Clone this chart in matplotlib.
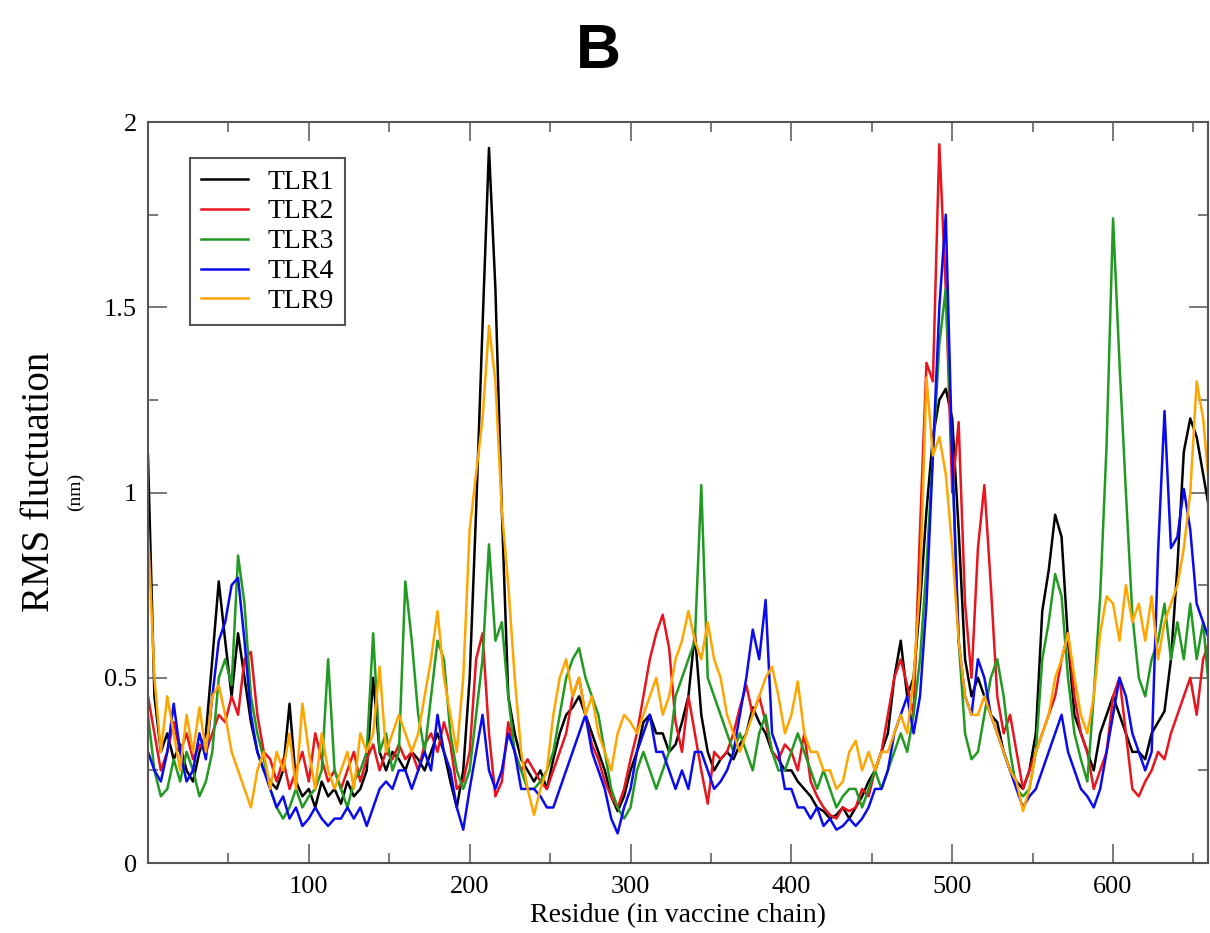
import numpy as np
import matplotlib
matplotlib.use("Agg")
import matplotlib.pyplot as plt
from matplotlib.ticker import MultipleLocator

# residue numbers sampled along the vaccine chain
residue = np.arange(0, 661, 4)

tlr1 = [
    1.10, 0.45, 0.30, 0.35, 0.28, 0.32, 0.25, 0.22, 0.30, 0.35,
    0.55, 0.76, 0.60, 0.45, 0.62, 0.50, 0.38, 0.30, 0.25, 0.22,
    0.20, 0.25, 0.43, 0.22, 0.18, 0.20, 0.15, 0.22, 0.18, 0.20,
    0.16, 0.22, 0.18, 0.20, 0.25, 0.50, 0.30, 0.25, 0.30, 0.28,
    0.25, 0.30, 0.28, 0.25, 0.30, 0.35, 0.30, 0.22, 0.15, 0.25,
    0.50, 0.95, 1.45, 1.93, 1.55, 0.95, 0.45, 0.35, 0.28, 0.25,
    0.22, 0.25, 0.20, 0.28, 0.35, 0.40, 0.42, 0.45, 0.40, 0.35,
    0.30, 0.25, 0.18, 0.14, 0.18, 0.25, 0.30, 0.38, 0.40, 0.35,
    0.35, 0.30, 0.32, 0.38, 0.45, 0.62, 0.40, 0.30, 0.25, 0.28,
    0.30, 0.28, 0.32, 0.35, 0.42, 0.38, 0.35, 0.30, 0.28, 0.25,
    0.25, 0.22, 0.20, 0.18, 0.15, 0.14, 0.12, 0.13, 0.15, 0.12,
    0.15, 0.18, 0.22, 0.25, 0.30, 0.35, 0.50, 0.60, 0.45, 0.50,
    0.70, 0.95, 1.15, 1.25, 1.28, 1.20, 0.90, 0.55, 0.45, 0.50,
    0.45, 0.40, 0.38, 0.30, 0.25, 0.22, 0.20, 0.25, 0.35, 0.68,
    0.79, 0.94, 0.88, 0.60, 0.40, 0.35, 0.30, 0.25, 0.35, 0.40,
    0.45, 0.40, 0.35, 0.30, 0.30, 0.28, 0.35, 0.38, 0.41, 0.55,
    0.80, 1.11, 1.20, 1.15, 1.05, 0.95,
]
tlr2 = [
    0.45, 0.35, 0.25, 0.30, 0.38, 0.30, 0.35, 0.28, 0.32, 0.30,
    0.35, 0.40, 0.38, 0.45, 0.40, 0.55, 0.57, 0.40, 0.30, 0.28,
    0.22, 0.28, 0.20, 0.25, 0.30, 0.22, 0.35, 0.28, 0.22, 0.25,
    0.20, 0.25, 0.30, 0.22, 0.28, 0.32, 0.25, 0.30, 0.28, 0.32,
    0.28, 0.30, 0.25, 0.32, 0.35, 0.30, 0.38, 0.32, 0.20, 0.22,
    0.30, 0.55, 0.62, 0.35, 0.18, 0.22, 0.38, 0.30, 0.25, 0.28,
    0.25, 0.22, 0.20, 0.25, 0.30, 0.35, 0.45, 0.50, 0.40, 0.32,
    0.28, 0.22, 0.18, 0.15, 0.20, 0.28, 0.35, 0.45, 0.55, 0.62,
    0.67, 0.58, 0.38, 0.30, 0.45, 0.35, 0.25, 0.16, 0.30, 0.28,
    0.30, 0.35, 0.42, 0.48, 0.40, 0.45, 0.38, 0.30, 0.28, 0.32,
    0.30, 0.25, 0.35, 0.22, 0.18, 0.15, 0.13, 0.12, 0.15, 0.14,
    0.15, 0.20, 0.18, 0.25, 0.30, 0.40, 0.50, 0.55, 0.48, 0.40,
    0.90, 1.35, 1.30, 1.94, 1.55, 1.00, 1.19, 0.70, 0.50, 0.85,
    1.02, 0.75, 0.45, 0.35, 0.40, 0.30, 0.20, 0.25, 0.30, 0.35,
    0.40, 0.45, 0.55, 0.62, 0.45, 0.35, 0.30, 0.20, 0.25, 0.30,
    0.45, 0.50, 0.35, 0.20, 0.18, 0.22, 0.25, 0.30, 0.28, 0.35,
    0.40, 0.45, 0.50, 0.40, 0.55, 0.60,
]
tlr3 = [
    0.40, 0.25, 0.18, 0.20, 0.28, 0.22, 0.30, 0.25, 0.18, 0.22,
    0.30, 0.50, 0.55, 0.48, 0.83, 0.70, 0.45, 0.35, 0.28, 0.20,
    0.15, 0.12, 0.15, 0.20, 0.15, 0.18, 0.20, 0.25, 0.55, 0.25,
    0.20, 0.15, 0.22, 0.25, 0.30, 0.62, 0.30, 0.35, 0.25, 0.30,
    0.76, 0.60, 0.40, 0.30, 0.45, 0.60, 0.55, 0.35, 0.25, 0.20,
    0.25, 0.40, 0.55, 0.86, 0.60, 0.65, 0.45, 0.30, 0.25, 0.20,
    0.20, 0.22, 0.25, 0.30, 0.40, 0.50, 0.55, 0.58, 0.50, 0.45,
    0.40, 0.30, 0.20, 0.15, 0.12, 0.15, 0.25, 0.30, 0.25, 0.20,
    0.25, 0.30, 0.45, 0.50, 0.55, 0.60, 1.02, 0.50, 0.45, 0.40,
    0.35, 0.30, 0.35, 0.30, 0.25, 0.35, 0.40, 0.30, 0.25, 0.25,
    0.30, 0.35, 0.30, 0.25, 0.20, 0.25, 0.20, 0.15, 0.18, 0.20,
    0.20, 0.15, 0.20, 0.25, 0.20, 0.25, 0.30, 0.35, 0.30, 0.40,
    0.55, 0.80, 1.10, 1.40, 1.55, 1.10, 0.60, 0.35, 0.28, 0.30,
    0.40, 0.50, 0.55, 0.45, 0.30, 0.20, 0.18, 0.20, 0.30, 0.55,
    0.65, 0.78, 0.72, 0.50, 0.35, 0.28, 0.22, 0.45, 0.72, 1.13,
    1.74, 1.35, 1.00, 0.67, 0.50, 0.45, 0.55, 0.60, 0.70, 0.55,
    0.65, 0.55, 0.70, 0.55, 0.65, 0.45,
]
tlr4 = [
    0.30, 0.25, 0.22, 0.30, 0.43, 0.30, 0.22, 0.25, 0.35, 0.28,
    0.45, 0.60, 0.65, 0.75, 0.77, 0.60, 0.40, 0.30, 0.25, 0.20,
    0.15, 0.18, 0.12, 0.15, 0.10, 0.12, 0.15, 0.12, 0.10, 0.12,
    0.12, 0.15, 0.12, 0.15, 0.10, 0.15, 0.20, 0.22, 0.20, 0.25,
    0.25, 0.20, 0.25, 0.30, 0.25, 0.40, 0.30, 0.25, 0.15, 0.09,
    0.20, 0.30, 0.40, 0.25, 0.20, 0.25, 0.35, 0.30, 0.20, 0.20,
    0.20, 0.18, 0.15, 0.15, 0.20, 0.25, 0.30, 0.35, 0.40, 0.30,
    0.25, 0.20, 0.12, 0.08, 0.15, 0.20, 0.30, 0.35, 0.40, 0.30,
    0.30, 0.25, 0.20, 0.25, 0.20, 0.30, 0.30, 0.25, 0.20, 0.22,
    0.25, 0.30, 0.40, 0.50, 0.63, 0.55, 0.71, 0.35, 0.30, 0.20,
    0.20, 0.15, 0.15, 0.12, 0.15, 0.10, 0.12, 0.09, 0.10, 0.12,
    0.10, 0.12, 0.15, 0.20, 0.20, 0.25, 0.35, 0.40, 0.45, 0.35,
    0.45, 0.70, 1.10, 1.50, 1.75, 1.10, 0.60, 0.45, 0.40, 0.55,
    0.50, 0.40, 0.35, 0.30, 0.25, 0.20, 0.15, 0.18, 0.20, 0.25,
    0.30, 0.35, 0.40, 0.30, 0.25, 0.20, 0.18, 0.15, 0.20, 0.30,
    0.40, 0.50, 0.45, 0.35, 0.30, 0.25, 0.30, 0.84, 1.22, 0.85,
    0.88, 1.01, 0.90, 0.70, 0.65, 0.60,
]
tlr9 = [
    0.90, 0.50, 0.30, 0.45, 0.35, 0.25, 0.40, 0.30, 0.42, 0.30,
    0.45, 0.48, 0.40, 0.30, 0.25, 0.20, 0.15, 0.25, 0.30, 0.20,
    0.30, 0.25, 0.35, 0.20, 0.43, 0.30, 0.20, 0.35, 0.25, 0.20,
    0.25, 0.30, 0.20, 0.35, 0.30, 0.35, 0.53, 0.30, 0.35, 0.40,
    0.35, 0.30, 0.35, 0.45, 0.55, 0.68, 0.50, 0.40, 0.30, 0.50,
    0.90, 1.05, 1.20, 1.45, 1.30, 0.95, 0.75, 0.50, 0.30, 0.20,
    0.13, 0.20, 0.25, 0.40, 0.50, 0.55, 0.45, 0.50, 0.40, 0.45,
    0.35, 0.30, 0.25, 0.35, 0.40, 0.38, 0.35, 0.40, 0.45, 0.50,
    0.40, 0.45, 0.55, 0.60, 0.68, 0.60, 0.55, 0.65, 0.55, 0.50,
    0.40, 0.35, 0.30, 0.35, 0.40, 0.45, 0.50, 0.53, 0.45, 0.35,
    0.40, 0.49, 0.35, 0.30, 0.30, 0.25, 0.25, 0.20, 0.22, 0.30,
    0.33, 0.25, 0.30, 0.25, 0.30, 0.30, 0.35, 0.40, 0.35, 0.50,
    0.75, 1.31, 1.10, 1.15, 1.05, 0.85, 0.60, 0.45, 0.40, 0.40,
    0.45, 0.40, 0.35, 0.30, 0.25, 0.22, 0.14, 0.20, 0.30, 0.35,
    0.40, 0.50, 0.55, 0.62, 0.50, 0.40, 0.35, 0.45, 0.62, 0.72,
    0.70, 0.60, 0.75, 0.65, 0.70, 0.60, 0.72, 0.55, 0.65, 0.70,
    0.75, 0.85, 1.00, 1.30, 1.20, 1.00,
]

labels = ["TLR1", "TLR2", "TLR3", "TLR4", "TLR9"]
colors = ["#000000", "#e8141e", "#229922", "#0a0af0", "#ffa500"]

serif = "Liberation Serif"
frame = "#555555"

fig = plt.figure(figsize=(12.10, 9.33), dpi=100)
ax = fig.add_axes([0.1223, 0.0750, 0.8760, 0.7942])

for ys, lab, col in zip([tlr1, tlr2, tlr3, tlr4, tlr9], labels, colors):
    ax.plot(residue, ys, color=col, lw=1.8, label=lab)

ax.set_xlim(0, 659)
ax.set_ylim(0, 2)
ax.set_xticks([100, 200, 300, 400, 500, 600])
ax.xaxis.set_minor_locator(MultipleLocator(50))
ax.set_yticks([0, 0.5, 1, 1.5, 2])
ax.set_yticklabels(["0", "0.5", "1", "1.5", "2"])
ax.yaxis.set_minor_locator(MultipleLocator(0.25))
ax.tick_params(which="both", direction="in", top=True, right=True,
               color=frame, width=1.1, labelsize=19)
ax.tick_params(which="major", length=14)
ax.tick_params(which="minor", length=7)
ax.tick_params(axis="x", pad=9)
ax.tick_params(axis="y", pad=8)
for t in ax.get_xticklabels() + ax.get_yticklabels():
    t.set_fontfamily(serif)
for s in ax.spines.values():
    s.set_color(frame)
    s.set_linewidth(1.5)

ax.set_xlabel("Residue (in vaccine chain)", fontsize=20, family=serif, labelpad=4)

fig.text(40 / 1210, 1 - 482 / 933, "RMS fluctuation", rotation=90,
         ha="center", va="center", fontsize=28, family=serif)
fig.text(75 / 1210, 1 - 492 / 933, "(nm)", rotation=90,
         ha="center", va="center", fontsize=14, family=serif)

fig.text(598 / 1210, 1 - 52 / 933, "B", ha="center", va="center",
         fontsize=45, fontweight="bold", family="Liberation Sans")

leg = ax.legend(loc="upper left", bbox_to_anchor=(0.0396, 0.9514),
                borderaxespad=0, fancybox=False, framealpha=1,
                prop={"family": serif, "size": 20}, handlelength=1.7,
                handletextpad=0.7, labelspacing=0.16, borderpad=0.4)
leg.get_frame().set_edgecolor(frame)
leg.get_frame().set_linewidth(1.5)

fig.savefig("out.png", dpi=100)
